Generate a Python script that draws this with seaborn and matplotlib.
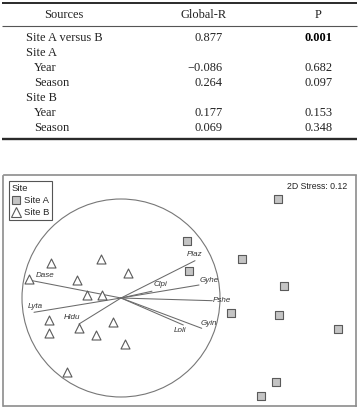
import numpy as np
import pandas as pd
import matplotlib
matplotlib.use("Agg")
import matplotlib.pyplot as plt
from matplotlib.lines import Line2D
from matplotlib.patches import Circle
import seaborn as sns

# ---------------- data ----------------
# ANOSIM table
row_labels = ["Site A versus B", "Site A", "Year", "Season", "Site B", "Year", "Season"]
row_indent = [0, 0, 1, 1, 0, 1, 1]
global_r = ["0.877", "", "\u22120.086", "0.264", "", "0.177", "0.069"]
p_values = ["0.001", "", "0.682", "0.097", "", "0.153", "0.348"]
p_bold = [True, False, False, False, False, False, False]
headers = ["Sources", "Global-R", "P"]

# NMDS ordination points
siteA_x = [1.567, 0.657, 1.213, 0.683, 1.63, 1.103, 1.583, 2.167, 1.55, 1.40]
siteA_y = [0.987, 0.573, 0.387, 0.267, 0.12, -0.153, -0.17, -0.307, -0.84, -0.977]
siteB_x = [-0.703, -0.20, -0.92, -0.443, 0.073, -0.343, -0.193, -0.717, -0.717,
           -0.42, -0.083, -0.25, 0.043, -0.543]
siteB_y = [0.353, 0.387, 0.187, 0.18, 0.247, 0.03, 0.03, -0.22, -0.353,
           -0.297, -0.243, -0.367, -0.46, -0.737]

# species vectors
species = ["Dase", "Lyta", "Hidu", "Clpi", "Plaz", "Gyhe", "Pshe", "Gyin", "Loli"]
vec_x = [-0.887, -0.87, -0.42, 0.31, 0.74, 0.78, 0.913, 0.807, 0.623]
vec_y = [0.173, -0.143, -0.26, 0.068, 0.373, 0.13, -0.027, -0.303, -0.27]
circle_r = 0.99
stress = 0.12

# ---------------- figure ----------------
sns.set_theme(style="white")
plt.rcParams["font.family"] = ["Liberation Sans", "DejaVu Sans"]

fig = plt.figure(figsize=(3.61, 4.11), dpi=100)

# table overlay in pixel coordinates
axt = fig.add_axes([0, 0, 1, 1])
axt.set_xlim(0, 361)
axt.set_ylim(411, 0)
axt.axis("off")

serif = ["Liberation Serif", "DejaVu Serif"]
tcol = "#222222"
tfs = 8.9
axt.plot([2, 357], [3.4, 3.4], color="#2a2a2a", lw=1.4, solid_capstyle="butt")
axt.plot([2, 357], [25.8, 25.8], color="#555555", lw=0.8, solid_capstyle="butt")
axt.plot([2, 357], [138.6, 138.6], color="#2a2a2a", lw=1.7, solid_capstyle="butt")

axt.text(64.3, 15, headers[0], ha="center", va="center", family=serif, fontsize=tfs, color=tcol)
axt.text(203.3, 15, headers[1], ha="center", va="center", family=serif, fontsize=tfs, color=tcol)
axt.text(318.3, 15, headers[2], ha="center", va="center", family=serif, fontsize=tfs, color=tcol)

row_y = [38.3, 53.2, 68.1, 83.0, 98.2, 113.1, 128.0]
for i, lab in enumerate(row_labels):
    x0 = 34.3 if row_indent[i] else 25.7
    axt.text(x0, row_y[i], lab, ha="left", va="center", family=serif, fontsize=tfs, color=tcol)
    if global_r[i]:
        axt.text(222.7, row_y[i], global_r[i], ha="right", va="center", family=serif,
                 fontsize=tfs, color=tcol)
    if p_values[i]:
        axt.text(332.7, row_y[i], p_values[i], ha="right", va="center", family=serif,
                 fontsize=tfs, color="black" if p_bold[i] else tcol,
                 fontweight="bold" if p_bold[i] else "normal")

# NMDS plot
L, R, T, B = 3.5, 356.0, 175.5, 406.0
ax = fig.add_axes([L / 361, (411 - B) / 411, (R - L) / 361, (B - T) / 411])
ox, oy, scale = 121.0, 298.0, 100.0
ax.set_xlim((L - ox) / scale, (R - ox) / scale)
ax.set_ylim((oy - B) / scale, (oy - T) / scale)
ax.set_xticks([])
ax.set_yticks([])
for sp in ax.spines.values():
    sp.set_color("#8c8c8c")
    sp.set_linewidth(1.2)

ax.add_patch(Circle((0, 0), circle_r, fill=False, edgecolor="#777777", lw=0.8, zorder=1))

for i, name in enumerate(species):
    ax.plot([0, vec_x[i]], [0, vec_y[i]], color="#6a6a6a", lw=0.75, zorder=2)

offsets = {"Dase": (9.4, 4.1), "Lyta": (0.7, 4.0), "Hidu": (-5.3, 4.8),
           "Clpi": (5.8, 4.7), "Plaz": (-0.5, 4.8), "Gyhe": (7.2, 3.6),
           "Pshe": (7.2, 0.0), "Gyin": (5.5, 3.6), "Loli": (-2.4, -3.6)}
for i, name in enumerate(species):
    ax.annotate(name, (vec_x[i], vec_y[i]), xytext=offsets[name], textcoords="offset points",
                ha="center", va="center", fontsize=5.8, fontstyle="italic", color="#333333",
                zorder=4)

dfA = pd.DataFrame({"x": siteA_x, "y": siteA_y, "Site": "Site A"})
dfB = pd.DataFrame({"x": siteB_x, "y": siteB_y, "Site": "Site B"})
sns.scatterplot(data=dfA, x="x", y="y", marker="s", color="#c4c4c4", edgecolor="#5a5a5a",
                linewidth=0.8, s=28, legend=False, ax=ax, zorder=3)
sns.scatterplot(data=dfB, x="x", y="y", marker="^", color="white", edgecolor="#5a5a5a",
                linewidth=0.8, s=42, legend=False, ax=ax, zorder=3)
ax.set_xlabel("")
ax.set_ylabel("")

ax.text((347.7 - ox) / scale, (oy - 186.0) / scale, f"2D Stress: {stress}", ha="right",
        va="center", fontsize=6.3, color="#222222")

handles = [Line2D([], [], marker="s", ls="", markersize=5.6, markerfacecolor="#c4c4c4",
                  markeredgecolor="#5a5a5a", markeredgewidth=0.8, label="Site A"),
           Line2D([], [], marker="^", ls="", markersize=7.0, markerfacecolor="white",
                  markeredgecolor="#5a5a5a", markeredgewidth=0.8, label="Site B")]
leg = ax.legend(handles=handles, title="Site", loc="upper left",
                bbox_to_anchor=((9 - L) / (R - L), 1 - (181.5 - T) / (B - T)),
                borderaxespad=0, fontsize=6.8, title_fontsize=6.8, frameon=True,
                fancybox=False, edgecolor="#555555", framealpha=1,
                handlelength=0.9, handletextpad=0.4, borderpad=0.3, labelspacing=0.3,
                alignment="left")
leg.get_frame().set_linewidth(0.8)

fig.savefig("out.png", dpi=100)
